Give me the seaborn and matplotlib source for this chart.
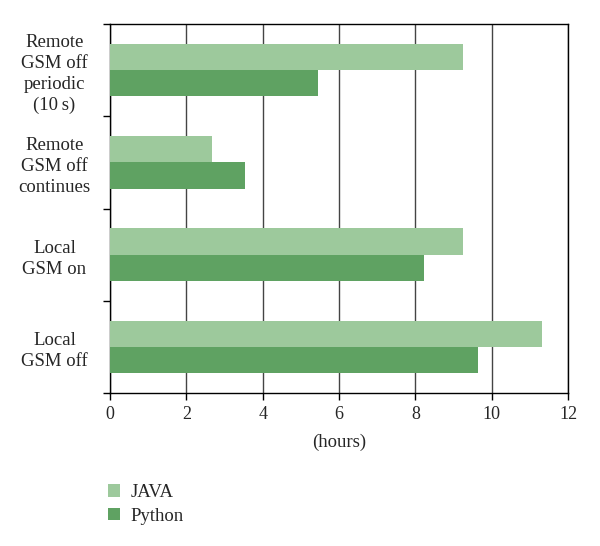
import numpy as np
import pandas as pd
import matplotlib
matplotlib.use("Agg")
import matplotlib.pyplot as plt
from matplotlib.patches import Patch
import seaborn as sns

# values
categories = ["Remote\nGSM off\nperiodic\n(10\u2009s)", "Remote\nGSM off\ncontinues",
              "Local\nGSM on", "Local\nGSM off"]
java_hours = [9.25, 2.67, 9.25, 11.32]
python_hours = [5.45, 3.54, 8.23, 9.64]
series = ["JAVA", "Python"]
colors = ["#9dc99c", "#5fa262"]

df = pd.DataFrame({
    "cat": categories * 2,
    "hours": java_hours + python_hours,
    "lang": ["JAVA"] * 4 + ["Python"] * 4,
})

sns.set_style("white")
plt.rcParams["font.family"] = ["Liberation Serif", "DejaVu Serif"]

fig = plt.figure(figsize=(6, 5.46), dpi=100)
ax = fig.add_axes([0.1833, 0.2802, 0.7634, 0.6758])

sns.barplot(data=df, y="cat", x="hours", hue="lang", hue_order=series,
            order=categories, palette=colors, orient="h", width=0.57,
            saturation=1, ax=ax, legend=False, zorder=3, linewidth=0)

ax.set_xlim(0, 12)
ax.set_ylim(3.5, -0.5)
ax.set_xticks(np.arange(0, 13, 2))
ax.set_axisbelow(True)
ax.grid(axis="x", color="#444444", lw=1)
ax.grid(axis="y", visible=False)
for s in ax.spines.values():
    s.set_visible(True)
    s.set_color("black")
    s.set_linewidth(1)

ax.set_yticks(np.arange(-0.5, 4, 1), minor=True)
ax.tick_params(axis="y", which="minor", length=5, width=1, color="black", left=True)
ax.tick_params(axis="y", which="major", length=0, pad=40)
for lbl in ax.get_yticklabels():
    lbl.set_ha("center")
    lbl.set_fontsize(13.5)
    lbl.set_linespacing(1.3)
ax.tick_params(axis="x", which="major", length=5, width=1, color="black",
               bottom=True, labelsize=13, pad=4)
ax.set_ylabel("")
ax.set_xlabel("(hours)", fontsize=13.5, labelpad=8)

handles = [Patch(facecolor=c, edgecolor="none") for c in colors]
fig.legend(handles, series, loc="upper left", bbox_to_anchor=(0.168, 0.127),
           frameon=False, fontsize=13.5, handlelength=0.65, handleheight=0.65,
           handletextpad=0.55, labelspacing=0.35, borderaxespad=0)

fig.savefig("out.png", dpi=100)
